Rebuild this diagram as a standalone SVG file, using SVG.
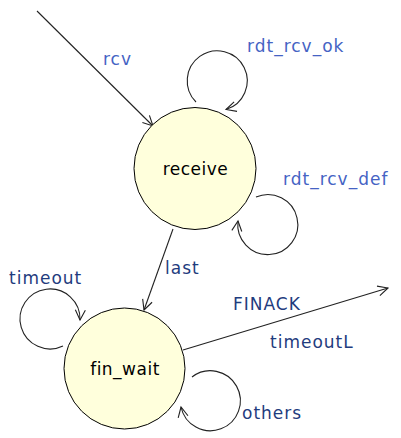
<svg xmlns="http://www.w3.org/2000/svg" width="401" height="438" viewBox="0 0 401 438">
<style>
.st{fill:#FFFFDC;stroke:#000;stroke-width:1}
.nt{font-family:"DejaVu Sans",Verdana,sans-serif;font-size:17px;fill:#000;text-anchor:middle;letter-spacing:0.5px}
.ln{fill:none;stroke:#222;stroke-width:1.1;marker-end:url(#ah)}
.lb{font-family:"DejaVu Sans",Verdana,sans-serif;font-size:17px;letter-spacing:1px}
.b1{fill:#4563C4}
.b2{fill:#1F3C7E}
</style>
<defs>
<marker id="ah" markerUnits="userSpaceOnUse" markerWidth="20" markerHeight="20" viewBox="-12 -10 14 20" refX="0" refY="0" orient="auto" overflow="visible">
<path d="M-10,-5 L0,0 L-10,5" fill="none" stroke="#222" stroke-width="1.1"/>
</marker>
</defs>
<rect width="401" height="438" fill="#fff"/>
<g id="connectors">
<path class="ln" d="M37,11 L153,126"/>
<path class="ln" d="M196,102 A30,30 0 1 1 226,109.5"/>
<path class="ln" d="M256,197 A30,30 0 1 1 238,221"/>
<path class="ln" d="M173,229 L144,310"/>
<path class="ln" d="M63,346 A30,30 0 1 1 80,320"/>
<path class="ln" d="M183,350 L388,288"/>
<path class="ln" d="M192,377 A30,30 0 1 1 181,407"/>
</g>
<g id="labels">
<text class="lb b1" x="103" y="65">rcv</text>
<text class="lb b1" x="247" y="52">rdt_rcv_ok</text>
<text class="lb b1" x="283" y="185">rdt_rcv_def</text>
<text class="lb b2" x="165" y="274">last</text>
<text class="lb b2" x="9" y="284">timeout</text>
<text class="lb b2" x="233" y="310">FINACK</text>
<text class="lb b2" x="270" y="348">timeoutL</text>
<text class="lb b2" x="242" y="419">others</text>
</g>
<g id="receive">
<circle class="st" cx="195" cy="168.5" r="61"/>
<text class="nt" x="195.5" y="175">receive</text>
</g>
<g id="fin_wait">
<circle class="st" cx="124.5" cy="368.5" r="60.5"/>
<text class="nt" x="125" y="375">fin_wait</text>
</g>
</svg>
